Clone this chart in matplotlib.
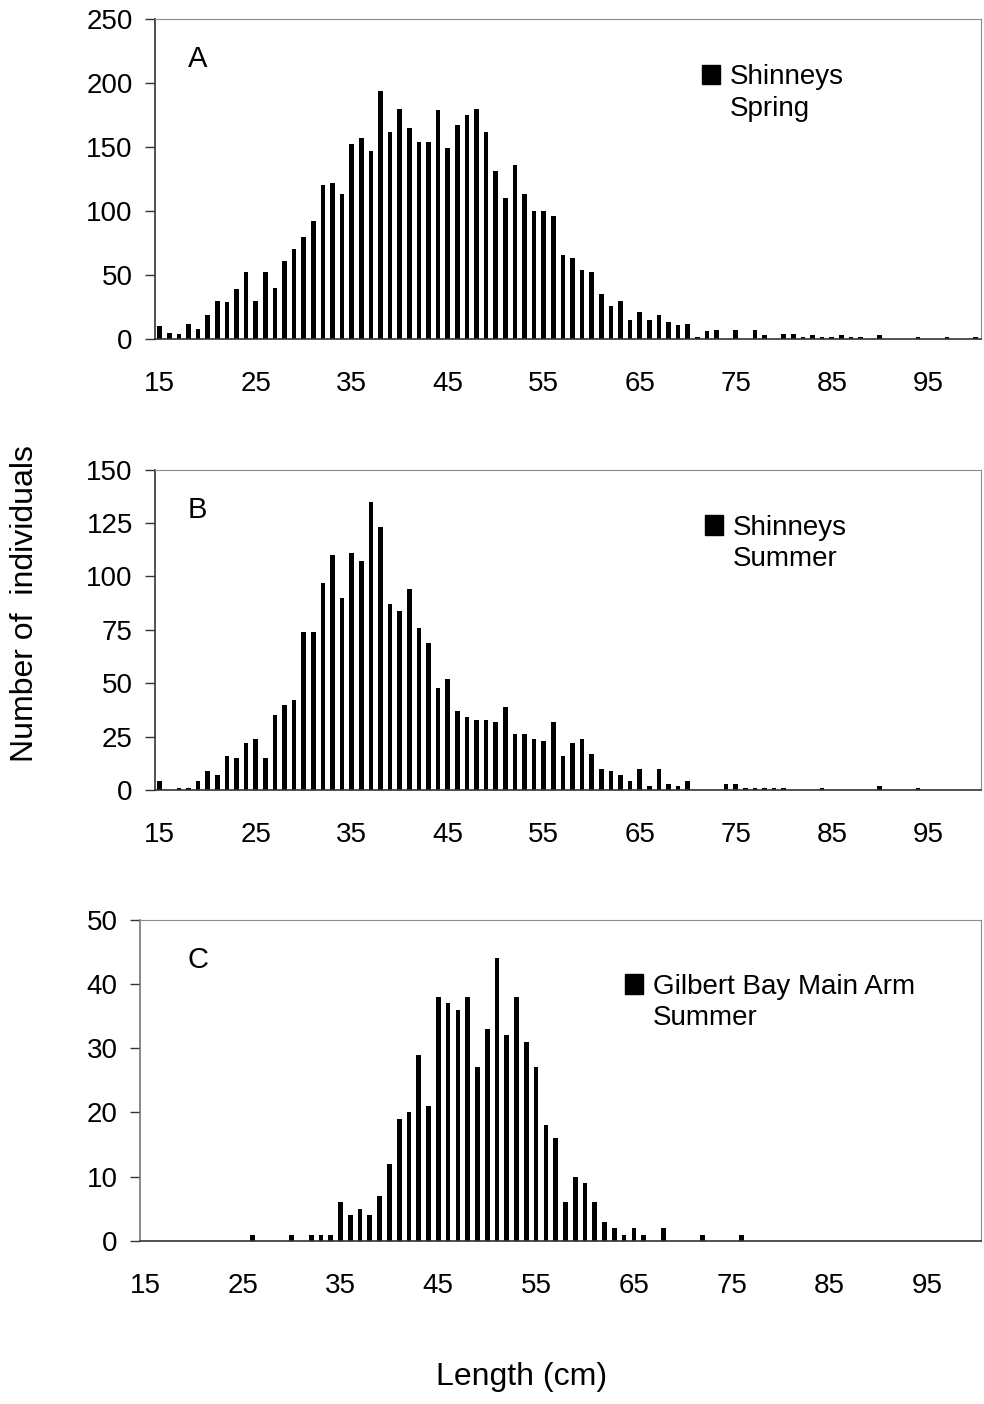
import matplotlib
matplotlib.use("Agg")
import matplotlib.pyplot as plt
from matplotlib.patches import Patch

plt.rcParams["font.family"] = ["Liberation Sans", "DejaVu Sans"]

# length classes (cm), one bar per class
lengths = list(range(15, 101))

spring = [10, 5, 4, 12, 8, 19, 30, 29, 39, 52,
          30, 52, 40, 61, 70, 80, 92, 120, 122, 113,
          152, 157, 147, 194, 162, 180, 165, 154, 154, 179,
          149, 167, 175, 180, 162, 131, 110, 136, 113, 100,
          100, 96, 66, 63, 54, 52, 35, 26, 30, 15,
          21, 15, 19, 13, 11, 12, 2, 6, 7, 0,
          7, 0, 7, 3, 0, 4, 4, 2, 3, 2,
          2, 3, 2, 2, 0, 3, 0, 0, 0, 2,
          0, 0, 2, 0, 0, 2]

summer = [4, 0, 1, 1, 4, 9, 7, 16, 15, 22,
          24, 15, 35, 40, 42, 74, 74, 97, 110, 90,
          111, 107, 135, 123, 87, 84, 94, 76, 69, 48,
          52, 37, 34, 33, 33, 32, 39, 26, 26, 24,
          23, 32, 16, 22, 24, 17, 10, 9, 7, 4,
          10, 2, 10, 3, 2, 4, 0, 0, 0, 3,
          3, 1, 1, 1, 1, 1, 0, 0, 0, 1,
          0, 0, 0, 0, 0, 2, 0, 0, 0, 1,
          0, 0, 0, 0, 0, 0]

gilbert = [0, 0, 0, 0, 0, 0, 0, 0, 0, 0,
           0, 1, 0, 0, 0, 1, 0, 1, 1, 1,
           6, 4, 5, 4, 7, 12, 19, 20, 29, 21,
           38, 37, 36, 38, 27, 33, 44, 32, 38, 31,
           27, 18, 16, 6, 10, 9, 6, 3, 2, 1,
           2, 1, 0, 2, 0, 0, 0, 1, 0, 0,
           0, 1, 0, 0, 0, 0, 0, 0, 0, 0,
           0, 0, 0, 0, 0, 0, 0, 0, 0, 0,
           0, 0, 0, 0, 0, 0]

panels = [
    # values, letter, legend lines, ymax, ystep, axes rect, legend anchor, left spine colour
    (spring, "A", ["Shinneys", "Spring"], 250, 50,
     [0.1575, 0.7585, 0.839, 0.228], (0.662, 0.859), "#333333"),
    (summer, "B", ["Shinneys", "Summer"], 150, 25,
     [0.1575, 0.4373, 0.839, 0.2282], (0.666, 0.859), "#333333"),
    (gilbert, "C", ["Gilbert Bay Main Arm", "Summer"], 50, 10,
     [0.1423, 0.1161, 0.8547, 0.2289], (0.577, 0.831), "#777777"),
]

fig = plt.figure(figsize=(9.84, 14.04), dpi=100)

pos = list(range(len(lengths)))
for vals, letter, leg_lines, ymax, ystep, rect, anchor, lcol in panels:
    ax = fig.add_axes(rect)
    ax.bar(pos, vals, width=0.48, color="black")
    ax.set_xlim(-0.5, len(lengths) - 0.5)
    ax.set_ylim(0, ymax)
    ax.set_yticks(range(0, ymax + 1, ystep))
    xt = [i for i, v in enumerate(lengths) if (v - 15) % 10 == 0 and v < 100]
    ax.set_xticks(xt)
    ax.set_xticklabels([str(lengths[i]) for i in xt])
    ax.tick_params(axis="x", length=0, pad=23, labelsize=20)
    ax.tick_params(axis="y", length=7, width=1, direction="out", color="#333333",
                   pad=9, labelsize=20)
    ax.spines["left"].set_color(lcol)
    ax.spines["bottom"].set_color("#333333")
    ax.spines["left"].set_linewidth(1.2)
    ax.spines["bottom"].set_linewidth(1.2)
    ax.spines["top"].set_color("#8c8c8c")
    ax.spines["right"].set_color("#8c8c8c")

    lx = 0.04 if letter != "C" else 0.057
    ax.text(lx, 0.918, letter, transform=ax.transAxes, fontsize=21, va="top", ha="left")

    handles = [Patch(facecolor="black", edgecolor="black"),
               Patch(facecolor="none", edgecolor="none")]
    ax.legend(handles, leg_lines, loc="upper left", bbox_to_anchor=anchor,
              frameon=False, fontsize=20, handlelength=0.65, handleheight=0.7,
              handletextpad=0.35, labelspacing=0.2, borderpad=0, borderaxespad=0)

fig.text(0.0254, 0.57, "Number of  individuals", rotation=90, fontsize=23,
         ha="center", va="center")
fig.text(0.53, 0.019, "Length (cm)", fontsize=23, ha="center", va="center")

fig.savefig("out.png", dpi=100)
